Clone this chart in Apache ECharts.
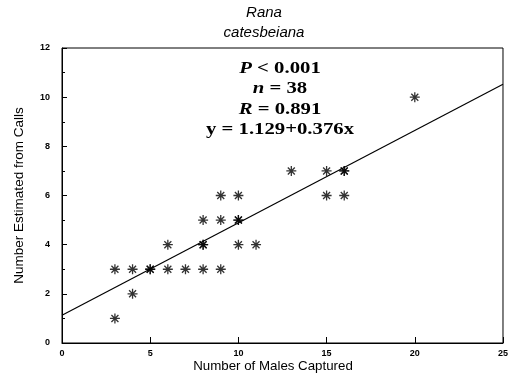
<!DOCTYPE html>
<html>
<head>
<meta charset="utf-8">
<script src="https://cdn.jsdelivr.net/npm/echarts@6/dist/echarts.min.js"></script>
<style>html,body{margin:0;padding:0;background:#fff}#c{width:511px;height:384px}</style>
</head>
<body>
<div id="c"></div>
<script>
const malesCaptured = [3, 3, 4, 4, 5, 5, 6, 6, 7, 8, 8, 8, 8, 9, 9, 9, 10, 10, 10, 10, 11, 13, 15, 15, 16, 16, 16, 20];
const estimatedFromCalls = [1, 3, 3, 2, 3, 3, 3, 4, 3, 3, 4, 4, 5, 3, 5, 6, 4, 5, 5, 6, 4, 7, 6, 7, 6, 7, 7, 10];
const intercept = 1.129;
const slope = 0.376;
const xRange = [0, 25];
const xTicks = [0, 5, 10, 15, 20, 25];
const yTicks = [0, 2, 4, 6, 8, 10, 12];
const titleLines = ['Rana', 'catesbeiana'];
const statLines = [['P', ' < 0.001'], ['n', ' = 38'], ['R', ' = 0.891'], ['', 'y = 1.129+0.376x']];
const xName = 'Number of Males Captured';
const yName = 'Number Estimated from Calls';

const pts = malesCaptured.map((x, i) => [x, estimatedFromCalls[i]]);
const fit = xRange.map(x => [x, intercept + slope * x]);

const chart = echarts.init(document.getElementById('c'), null, {renderer: 'canvas'});
const star = 'path://M5,0L5,10M0,5L10,5M1.5,1.5L8.5,8.5M1.5,8.5L8.5,1.5';

chart.setOption({
  animation: false,
  backgroundColor: '#fff',
  grid: {left: 62, top: 48, right: 8, bottom: 41, show: true, borderColor: '#000', borderWidth: 1},
  xAxis: {
    type: 'value', min: 0, max: 25, interval: 5,
    axisLine: {show: true, lineStyle: {color: '#000'}},
    axisTick: {show: true, inside: true, length: 6, lineStyle: {color: '#000'}},
    axisLabel: {fontFamily: 'Liberation Sans', fontWeight: 'bold', fontSize: 9, color: '#000', margin: 6,
      formatter: v => xTicks.includes(v) ? String(v) : ''},
    splitLine: {show: false}
  },
  yAxis: {
    type: 'value', min: 0, max: 12, interval: 2,
    name: yName, nameLocation: 'middle', nameGap: 36, nameRotate: 90,
    nameTextStyle: {fontFamily: 'Liberation Sans', fontSize: 13.5, color: '#000'},
    axisLine: {show: true, lineStyle: {color: '#000'}},
    axisTick: {show: true, inside: true, length: 5, lineStyle: {color: '#000'}},
    minorTick: {show: true, splitNumber: 2, length: 3, lineStyle: {color: '#000'}},
    axisLabel: {fontFamily: 'Liberation Sans', fontWeight: 'bold', fontSize: 9, color: '#000', margin: 12,
      formatter: v => yTicks.includes(v) ? String(v) : ''},
    splitLine: {show: false}
  },
  graphic: [
    {type: 'text', x: 264, y: 3, style: {text: titleLines.join('\n'), fontFamily: 'Liberation Sans', fontStyle: 'italic', fontSize: 15, lineHeight: 20, fill: '#000', align: 'center'}},
    {type: 'text', x: 273, y: 360, style: {text: xName, fontFamily: 'Liberation Sans', fontSize: 13.3, fill: '#000', align: 'center'}},
    {type: 'text', x: 280, y: 58, scaleX: 1.22, style: {
      text: statLines.map(l => (l[0] ? '{i|' + l[0] + '}' : '') + '{b|' + l[1] + '}').join('\n'),
      align: 'center', lineHeight: 20.5,
      rich: {
        i: {fontFamily: 'Liberation Serif', fontWeight: 'bold', fontStyle: 'italic', fontSize: 17, fill: '#000', lineHeight: 20.5},
        b: {fontFamily: 'Liberation Serif', fontWeight: 'bold', fontSize: 17, fill: '#000', lineHeight: 20.5}
      }}}
  ],
  series: [
    {type: 'line', data: fit, symbol: 'none', lineStyle: {color: '#000', width: 1.2}, z: 2},
    {type: 'scatter', data: pts, symbol: star, symbolSize: 10,
      itemStyle: {color: 'transparent', borderColor: '#000', borderWidth: 1.3}, z: 3}
  ]
});
</script>
</body>
</html>
